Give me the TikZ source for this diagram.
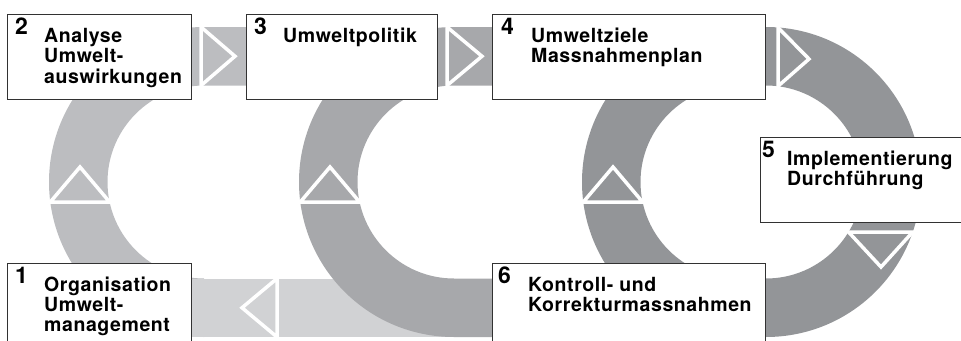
\documentclass[tikz,border=0pt]{standalone}
\usepackage{fontspec}
\setmainfont{TeX Gyre Heros}[LetterSpace=3]
\newfontfamily\numfont{TeX Gyre Heros}
\definecolor{ringA}{RGB}{188,189,192}
\definecolor{ringB}{RGB}{209,210,212}
\definecolor{ringM}{RGB}{167,168,171}
\definecolor{ringD}{RGB}{147,149,152}
\definecolor{boxline}{RGB}{50,50,50}
\newcommand\txtlines[1]{\begin{tabular}[t]{@{}l@{}}#1\end{tabular}}
\begin{document}
\begin{tikzpicture}[x=1pt,y=-1pt,
  box/.style={draw=boxline, line width=1.1pt, fill=white, inner sep=0pt, anchor=north west},
  num/.style={font=\numfont\bfseries\fontsize{23}{24}\selectfont, anchor=base west, inner sep=0pt},
  lbl/.style={font=\bfseries\fontsize{19.5}{20}\selectfont, anchor=base west, inner sep=0pt},
  tri/.style={draw=white, line width=3.5pt}]
\useasboundingbox (0,0) rectangle (961,340);
% left ring
\fill[ringA] (246,27) -- (204,27) arc[start angle=270,end angle=90,radius=155]
  -- (204,278.5) arc[start angle=90,end angle=270,radius=96.5] -- (246,85.5) -- cycle;
% bottom band
\fill[ringB] (191,278.5) rectangle (492,337);
% middle ring
\fill[ringM] (492,27) -- (454,27) arc[start angle=270,end angle=90,radius=155]
  -- (492,337) -- (492,278.5) -- (454,278.5) arc[start angle=90,end angle=270,radius=96.5]
  -- (492,85.5) -- cycle;
% right ring
\fill[ringD, even odd rule] (766,27) -- (737,27) arc[start angle=270,end angle=90,radius=155]
  -- (766,337) arc[start angle=90,end angle=-90,radius=155] -- cycle
  (766,85.5) -- (737,85.5) arc[start angle=270,end angle=90,radius=96.5]
  -- (766,278.5) arc[start angle=90,end angle=-90,radius=96.5] -- cycle;
% arrow triangles
\draw[tri] (50.3,202) -- (109.6,202) -- (80,167) -- cycle;
\draw[tri] (300.3,202) -- (359.6,202) -- (330,167) -- cycle;
\draw[tri] (583.3,202) -- (642.6,202) -- (613,167) -- cycle;
\draw[tri] (201,27) -- (201,85.5) -- (235,56.25) -- cycle;
\draw[tri] (447,27) -- (447,85.5) -- (482,56.25) -- cycle;
\draw[tri] (778,27.5) -- (809,59) -- (778,86.2) -- cycle;
\draw[tri] (848.5,232) -- (912.7,232) -- (881,267) -- cycle;
\draw[tri] (277,278.5) -- (277,337) -- (242,307.75) -- cycle;
% boxes
\node[box, minimum width=184pt, minimum height=85pt] (b2) at (7,14) {};
\node[box, minimum width=191pt, minimum height=85pt] (b3) at (246,14) {};
\node[box, minimum width=273pt, minimum height=85pt] (b4) at (492,14) {};
\node[box, minimum width=201pt, minimum height=85pt] (b5) at (760,137) {};
\node[box, minimum width=273pt, minimum height=90pt] (b6) at (492,263) {};
\node[box, minimum width=184pt, minimum height=90pt] (b1) at (7,263) {};
% numbers
\node[num] (n1) at ([shift={(8,20)}]b1.north west) {1};
\node[num] (n2) at ([shift={(8,20)}]b2.north west) {2};
\node[num] (n3) at ([shift={(8,20)}]b3.north west) {3};
\node[num] (n4) at ([shift={(9,20)}]b4.north west) {4};
\node[num] (n5) at ([shift={(2,20)}]b5.north west) {5};
\node[num] (n6) at ([shift={(6,20)}]b6.north west) {6};
% labels
\node[lbl] (t1) at ([shift={(37,28.5)}]b1.north west) {\txtlines{Organisation\\Umwelt-\\management}};
\node[lbl] (t2) at ([shift={(37,28.5)}]b2.north west) {\txtlines{Analyse\\Umwelt-\\auswirkungen}};
\node[lbl] (t3) at ([shift={(37,28.5)}]b3.north west) {\txtlines{Umweltpolitik}};
\node[lbl] (t4) at ([shift={(39,28.5)}]b4.north west) {\txtlines{Umweltziele\\Massnahmenplan}};
\node[lbl] (t5) at ([shift={(27,28.5)}]b5.north west) {\txtlines{Implementierung\\Durchführung}};
\node[lbl] (t6) at ([shift={(36,28.5)}]b6.north west) {\txtlines{Kontroll- und\\Korrekturmassnahmen}};
\end{tikzpicture}
\end{document}
